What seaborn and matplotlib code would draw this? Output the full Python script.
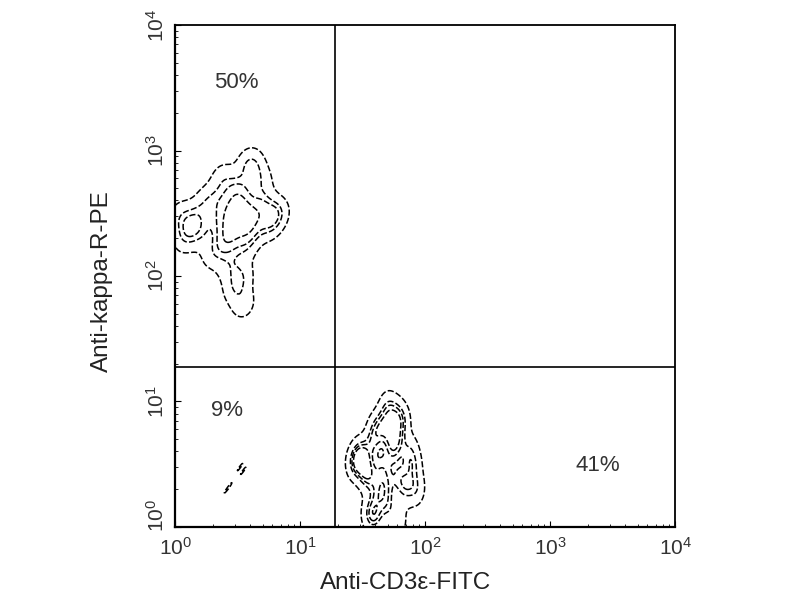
import numpy as np
import pandas as pd
import matplotlib
matplotlib.use("Agg")
import matplotlib.pyplot as plt
import matplotlib.transforms as mtransforms
import seaborn as sns

# --- data ---
# upper-left population (kappa+ B cells)
b_x = [2.8, 3.2, 2.5, 3.5, 2.2, 4.0, 1.8, 4.5, 3.0, 2.6, 3.8, 1.5, 5.0, 2.0, 3.3,
       2.9, 1.3, 6.0, 2.4, 3.6, 4.2, 2.7, 3.1, 1.6, 5.5, 3.4, 2.3, 3.0, 3.7, 2.8,
       1.1, 1.2, 4.8, 6.5, 3.9, 3.5]
b_y = [250, 300, 200, 350, 280, 220, 400, 320, 500, 180, 260, 300, 380, 150, 450,
       230, 250, 300, 600, 170, 700, 120, 350, 220, 250, 100, 400, 80, 280, 320,
       300, 200, 550, 320, 800, 60]
# lower-right population (CD3+ T cells)
t_x = [45, 55, 36, 60, 40, 70, 31, 50, 65, 38, 48, 80, 30, 58, 42, 52, 75, 33, 62, 46,
       27, 85, 50, 40, 60, 36]
t_y = [3, 4, 2.5, 5, 6, 2, 3.5, 1.5, 7, 4.5, 2.2, 3, 3.8, 8, 1.8, 5.5, 4, 2.8, 2.5, 6.5,
       3.2, 2.0, 9.0, 1.2, 1.1, 1.3]
# lower-left (double negative) events
n_x = [2.6, 2.7, 3.3, 3.5]
n_y = [2.0, 2.1, 3.0, 2.8]

quad_gate = 19.0
quad_labels = ["50%", "9%", "41%"]
label_x = [3.1, 2.6, 2400]
label_y = [3500, 8.5, 3.1]
x_label = "Anti-CD3ε-FITC"
y_label = "Anti-kappa-R-PE"

sns.set_style("ticks")
plt.rcParams["font.family"] = ["Liberation Sans", "DejaVu Sans"]
plt.rcParams["mathtext.fontset"] = "custom"
plt.rcParams["mathtext.rm"] = "Liberation Sans"
plt.rcParams["mathtext.it"] = "Liberation Sans"

fig = plt.figure(figsize=(8, 6), dpi=100)
ax = fig.add_axes([0.219, 0.1217, 0.625, 0.8366])

for xs, ys, bw, lv, th in [(b_x, b_y, 0.65, 5, 0.06), (t_x, t_y, 0.62, 5, 0.06),
                           (n_x, n_y, 0.3, 2, 0.3)]:
    df = pd.DataFrame({"x": xs, "y": ys})
    sns.kdeplot(data=df, x="x", y="y", log_scale=True, ax=ax, color="black",
                levels=lv, thresh=th, bw_adjust=bw, linewidths=1.1,
                linestyles=[(0, (4, 1.5))])

ax.set_xscale("log")
ax.set_yscale("log")
ax.set_xlim(1, 1e4)
ax.set_ylim(1, 1e4)

ax.axvline(quad_gate, color="black", lw=1.2)
ax.axhline(quad_gate, color="black", lw=1.2)

for t, xx, yy in zip(quad_labels, label_x, label_y):
    ax.text(xx, yy, t, ha="center", va="center", fontsize=16, color="#333333")

for s in ax.spines.values():
    s.set_visible(True)
    s.set_linewidth(1.3)
    s.set_color("black")
ax.spines["left"].set_linewidth(1.6)
ax.spines["bottom"].set_linewidth(1.6)

ax.tick_params(which="both", direction="in", color="black")
ax.tick_params(which="major", length=4, labelsize=15, pad=5, labelcolor="#333333")
ax.tick_params(axis="x", which="major", pad=7)
ax.tick_params(which="minor", length=2.5)
ax.tick_params(axis="x", top=False)
ax.tick_params(axis="y", right=False)

fig.canvas.draw()
ylabs = ax.get_yticklabels()
for lab in ylabs:
    lab.set_rotation(90)
    lab.set_va("center")
# nudge the lowest y tick label up a little so it clears the x "10^0" label
shift = mtransforms.ScaledTranslation(0, 8 / 72, fig.dpi_scale_trans)
for lab in ylabs:
    if "{0}" in lab.get_text():
        lab.set_transform(lab.get_transform() + shift)

ax.set_xlabel(x_label, fontsize=17.5, labelpad=14, color="#222222")
ax.set_ylabel(y_label, fontsize=17.5, labelpad=10, color="#222222")
ax.xaxis.set_label_coords(0.46, -0.09)
ax.yaxis.set_label_coords(-0.125, 0.49)

fig.savefig("out.png", dpi=100)
